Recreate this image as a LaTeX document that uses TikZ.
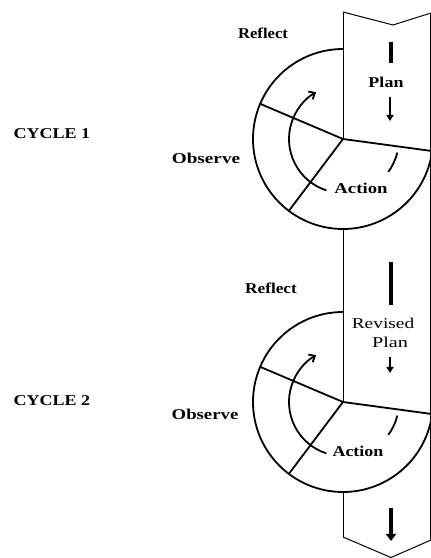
\documentclass[tikz,border=0pt]{standalone}
\usepackage{fontspec}
\setmainfont{Liberation Serif}
\usepackage{graphicx}
\usetikzlibrary{arrows.meta}
\newcommand{\wlab}[2]{\scalebox{#1}[1]{#2}}
\begin{document}
\begin{tikzpicture}[x=1pt,y=1pt,line join=round,
  band/.style={line width=1pt},
  wheel/.style={line width=1.8pt},
  bar/.style={line width=3.4pt},
  smallarrow/.style={line width=1.8pt,-{Triangle[length=6pt,width=7pt]}},
  bigarrow/.style={line width=3.4pt,-{Triangle[length=7pt,width=10pt]}},
  cyclearrow/.style={line width=1.8pt,-{Straight Barb[length=5pt,width=9pt]}},
  lab/.style={inner sep=0pt,font=\fontsize{15}{15}\selectfont}]
\useasboundingbox (0,0) rectangle (431,558);
\coordinate (c1) at (343,419);
\coordinate (c2) at (343,156);
% band
\coordinate (tl) at (343,546);
\coordinate (tm) at (393,533);
\coordinate (tr) at (431,545);
\coordinate (bl) at (343,21);
\coordinate (bm) at (391,0.5);
\coordinate (br) at (431,18);
\coordinate (c1b) at (343,329);
\coordinate (c2b) at (343,66);
\draw[band] (tl) -- (tm) -- (tr);
\draw[band] (430,545) -- (430,18);
\draw[band] (tl) -- (c1);
\draw[band] (c1b) -- (c2);
\draw[band] (c2b) -- (bl);
\draw[band] (bl) -- (bm) -- (br);
% wheels
\foreach \c in {c1,c2}{
  \draw[wheel] (\c) ++(90:90) arc[start angle=90,end angle=352.3,radius=90];
  \draw[wheel] (\c) -- ++(157:90);
  \draw[wheel] (\c) -- ++(233:90);
  \draw[wheel] (\c) -- ++(-7.7:90);
  \draw[cyclearrow] (\c) ++(252:54) arc[start angle=252,end angle=120,radius=54];
  \draw[wheel] (\c) ++(-36:56) arc[start angle=-36,end angle=-14,radius=56];
}
% band arrows
\coordinate (a1s) at (391,516); \coordinate (a1e) at (391,495);
\coordinate (a2s) at (390,461); \coordinate (a2e) at (390,437);
\coordinate (a3s) at (391,296); \coordinate (a3e) at (391,253);
\coordinate (a4s) at (390,201); \coordinate (a4e) at (390,185);
\coordinate (a5s) at (391,50);  \coordinate (a5e) at (391,17);
\draw[bar] (a1s) -- (a1e);
\draw[smallarrow] (a2s) -- (a2e);
\draw[bar] (a3s) -- (a3e);
\draw[smallarrow] (a4s) -- (a4e);
\draw[bigarrow] (a5s) -- (a5e);
% labels
\node[lab] (cyc1) at (52,424) {\wlab{1.2}{\textbf{CYCLE 1}}};
\node[lab] (cyc2) at (52,157) {\wlab{1.2}{\textbf{CYCLE 2}}};
\node[lab] (ref1) at (263,525) {\wlab{1.11}{\textbf{Reflect}}};
\node[lab] (obs1) at (206,400) {\wlab{1.28}{\textbf{Observe}}};
\node[lab] (plan1) at (386,476) {\wlab{1.2}{\textbf{Plan}}};
\node[lab] (act1) at (361,370) {\wlab{1.25}{\textbf{Action}}};
\node[lab] (ref2) at (271,270) {\wlab{1.15}{\textbf{Reflect}}};
\node[lab] (obs2) at (205,144) {\wlab{1.25}{\textbf{Observe}}};
\node[lab] (rev2) at (383,235) {\wlab{1.29}{Revised}};
\node[lab] (plan2) at (390,216) {\wlab{1.35}{Plan}};
\node[lab] (act2) at (358,107) {\wlab{1.2}{\textbf{Action}}};
\end{tikzpicture}
\end{document}
